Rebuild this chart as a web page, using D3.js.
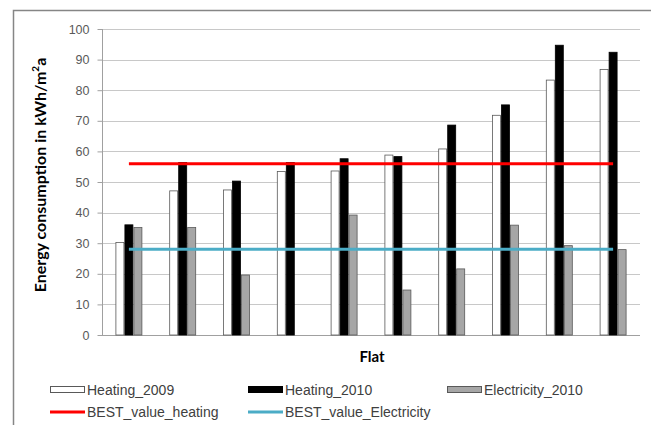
<!DOCTYPE html>
<html><head><meta charset="utf-8">
<script src="https://cdn.jsdelivr.net/npm/d3@7"></script>
<style>body{margin:0;background:#fff;} svg{display:block;}</style>
</head><body>
<script>
const categories = ["1","2","3","4","5","6","7","8","9","10"];
const heating2009 = [30.2, 47.1, 47.4, 53.4, 53.6, 58.8, 60.8, 71.8, 83.3, 86.8];
const heating2010 = [36.0, 56.4, 50.3, 56.4, 57.6, 58.3, 68.6, 75.2, 94.7, 92.4];
const electricity2010 = [35.1, 35.1, 19.6, null, 39.2, 14.7, 21.6, 35.9, 29.2, 27.9];
const bestHeating = 56;
const bestElectricity = 28;
const yTicks = [0,10,20,30,40,50,60,70,80,90,100];
const seriesNames = ["Heating_2009","Heating_2010","Electricity_2010"];
const lineNames = ["BEST_value_heating","BEST_value_Electricity"];

(function () {
const W = 651, H = 425;
const svg = d3.select("body").append("svg").attr("width", W).attr("height", H);

// outer chart frame
svg.append("rect").attr("x", 13.5).attr("y", 10.5).attr("width", 700).attr("height", 500)
  .attr("fill", "#fff").attr("stroke", "#868686").attr("stroke-width", 1.5);

const pL = 102, pR = 640, pT = 29, pB = 335;
const x = d3.scaleBand().domain(categories).range([pL, pR]);
const y = d3.scaleLinear().domain([0, 100]).range([pB, pT]);

// gridlines
svg.append("g").selectAll("line").data(yTicks.filter(d => d > 0)).join("line")
  .attr("x1", pL).attr("x2", pR)
  .attr("y1", d => Math.round(y(d)) + 0.5).attr("y2", d => Math.round(y(d)) + 0.5)
  .attr("stroke", "#c8c8c8").attr("stroke-width", 1.2);

// y axis
const yAxis = d3.axisLeft(y).tickValues(yTicks).tickSize(5).tickPadding(8);
const gy = svg.append("g").attr("transform", `translate(${pL + 0.5},0)`).call(yAxis);
gy.select(".domain").attr("stroke", "#a0a0a0").attr("d", `M0,${pT}V${pB}`);
gy.selectAll(".tick line").attr("stroke", "#a0a0a0");
gy.selectAll(".tick text").attr("fill", "#595959").style("font-family", "'Liberation Sans', Arial, sans-serif").style("font-size", "12.5px");

// x axis line
svg.append("line").attr("x1", pL).attr("x2", pR).attr("y1", pB + 0.5).attr("y2", pB + 0.5)
  .attr("stroke", "#a0a0a0");

// bars
const bw = 9;
const groupW = bw * 3;
const fills = ["#ffffff", "#000000", "#a6a6a6"];
const strokes = ["#595959", "#000000", "#595959"];
const seriesData = [heating2009, heating2010, electricity2010];
seriesData.forEach((vals, si) => {
  svg.append("g").selectAll("rect").data(vals.map((v, i) => ({v, c: categories[i]})).filter(d => d.v != null))
    .join("rect")
    .attr("x", d => x(d.c) + x.bandwidth() / 2 - groupW / 2 + si * bw + 0.5)
    .attr("y", d => y(d.v))
    .attr("width", bw - 1)
    .attr("height", d => y(0) - y(d.v))
    .attr("fill", fills[si]).attr("stroke", strokes[si]).attr("stroke-width", 0.8);
});

// best value lines
const cx = c => x(c) + x.bandwidth() / 2;
svg.append("line").attr("x1", cx(categories[0])).attr("x2", cx(categories[categories.length - 1]))
  .attr("y1", y(bestHeating)).attr("y2", y(bestHeating)).attr("stroke", "#ff0000").attr("stroke-width", 3);
svg.append("line").attr("x1", cx(categories[0])).attr("x2", cx(categories[categories.length - 1]))
  .attr("y1", y(bestElectricity)).attr("y2", y(bestElectricity)).attr("stroke", "#4bacc6").attr("stroke-width", 3);

// axis titles
svg.append("text").attr("transform", `translate(42,175) rotate(-90)`)
  .attr("text-anchor", "middle").attr("dominant-baseline", "middle")
  .style("font-family", "Lato, 'Open Sans', sans-serif").style("font-weight", "bold").style("font-size", "16px")
  .attr("fill", "#000")
  .html("Energy consumption in kWh/m<tspan dy='-6' font-size='10px'>2</tspan><tspan dy='6'>a</tspan>");
svg.append("text").attr("x", 372).attr("y", 362).attr("text-anchor", "middle")
  .style("font-family", "Lato, 'Open Sans', sans-serif").style("font-weight", "bold").style("font-size", "15px")
  .text("Flat");

// legend
const lg = svg.append("g").style("font-family", "'Liberation Sans', Arial, sans-serif").style("font-size", "14px");
const legX = [50, 248, 447];
seriesNames.forEach((n, i) => {
  lg.append("rect").attr("x", legX[i] + 0.5).attr("y", 386.5).attr("width", 34).attr("height", 6)
    .attr("fill", fills[i]).attr("stroke", strokes[i]).attr("stroke-width", 1);
  lg.append("text").attr("x", legX[i] + 37).attr("y", 395).attr("fill", "#404040").text(n);
});
const lineColors = ["#ff0000", "#4bacc6"];
lineNames.forEach((n, i) => {
  lg.append("line").attr("x1", legX[i]).attr("x2", legX[i] + 35).attr("y1", 412).attr("y2", 412)
    .attr("stroke", lineColors[i]).attr("stroke-width", 3);
  lg.append("text").attr("x", legX[i] + 37).attr("y", 417).attr("fill", "#404040").text(n);
});
})();
</script>
</body></html>
